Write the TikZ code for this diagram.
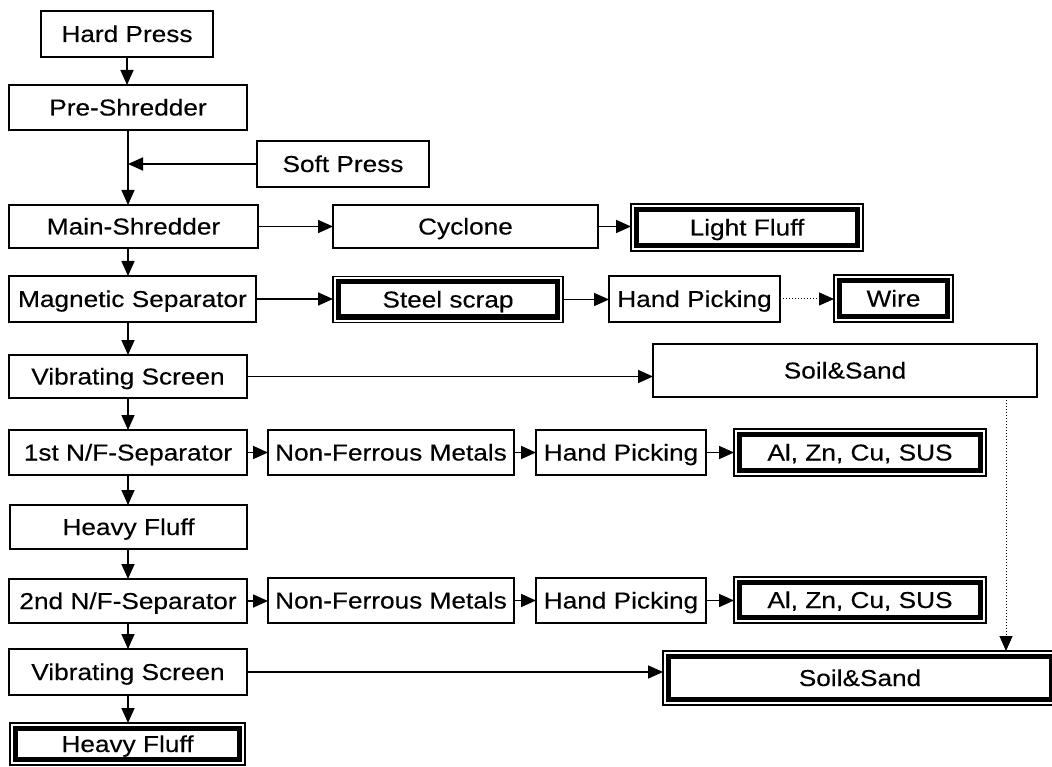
\documentclass[tikz,border=0pt]{standalone}
\usepackage{fontspec}
\setmainfont{Liberation Sans}[FakeStretch=1.14,FakeBold=0.3]
\usepackage{tikz}
\usetikzlibrary{arrows.meta,positioning}

\begin{document}
\begin{tikzpicture}[
		x=1pt,y=-1pt,
		box/.style={
			draw,
			line width=1.7pt,
			inner sep=0pt,
			outer sep=0pt,
			text height=16pt,
			text depth=0pt,
			font=\fontsize{23}{26}\selectfont
		},
		outbox/.style={
			box,
			line width=1.1pt
		},
		arr/.style={
			line width=1.7pt,
			-{Triangle[length=15pt,width=13pt]}
		},
		dotarr/.style={
			arr,
			line width=1pt,
			dotted
		}
		]
		
		\clip (0,0) rectangle (1052,767);
		
		% main column
		\node[box, minimum width=172, minimum height=46] at (127,34) (hard) {Hard Press};
		\node[box, minimum width=238, minimum height=45] at (128,107.5) (pre) {Pre-Shredder};
		\node[box, minimum width=172, minimum height=46] at (343,164) (soft) {Soft Press};
		\node[box, minimum width=249, minimum height=43] at (133.5,226.5) (main) {Main-Shredder};
		\node[box, minimum width=247, minimum height=46] at (132.5,299) (magnet) {Magnetic Separator};
		\node[box, minimum width=238, minimum height=43] at (128,376.5) (vib1) {Vibrating Screen};
		\node[box, minimum width=238, minimum height=45] at (128,452.5) (nf1) {1st N/F-Separator};
		\node[box, minimum width=237, minimum height=44] at (128.5,527) (heavy1) {Heavy Fluff};
		\node[box, minimum width=238, minimum height=44] at (128,601) (nf2) {2nd N/F-Separator};
		\node[box, minimum width=238, minimum height=46] at (128,672) (vib2) {Vibrating Screen};
		\node[outbox, minimum width=235, minimum height=42] at (127.5,744) (heavy2) {Heavy Fluff};
		
		% side branches
		\node[box, minimum width=265, minimum height=43] at (465.5,226.5) (cyclone) {Cyclone};
		\node[outbox, minimum width=232, minimum height=47] at (747,227.5) (light) {Light Fluff};
		\node[outbox, minimum width=230, minimum height=46] at (448,299.5) (steel) {Steel scrap};
		\node[box, minimum width=171, minimum height=46] at (694.5,299) (hand1) {Hand Picking};
		\node[outbox, minimum width=119, minimum height=47] at (893.5,298.5) (wire) {Wire};
		\node[box, minimum width=384, minimum height=53] at (845,370.5) (soil1) {Soil\&Sand};
		\node[box, minimum width=246, minimum height=45] at (391,452.5) (nfm1) {Non-Ferrous Metals};
		\node[box, minimum width=170, minimum height=45] at (621,452.5) (hand2) {Hand Picking};
		\node[outbox, minimum width=252, minimum height=47] at (860,452.5) (al1) {Al, Zn, Cu, SUS};
		\node[box, minimum width=246, minimum height=45] at (391,600.5) (nfm2) {Non-Ferrous Metals};
		\node[box, minimum width=170, minimum height=45] at (621,600.5) (hand3) {Hand Picking};
		\node[outbox, minimum width=252, minimum height=46] at (860,600) (al2) {Al, Zn, Cu, SUS};
		\node[outbox, minimum width=394, minimum height=54] at (860,678) (soil2) {Soil\&Sand};
		
		% thick inner frame of the end products
		\foreach \n in {light,steel,wire,al1,al2,soil2,heavy2}
		\draw[line width=5pt] ([shift={(5.5pt,5.5pt)}]\n.south west) rectangle ([shift={(-5.5pt,-5.5pt)}]\n.north east);
		
		\coordinate (drop) at (1006,397);
		
		% flow down
		\draw[arr] (hard.south) -- (hard.south |- pre.north);
		\draw[arr] (pre.south) -- (pre.south |- main.north);
		\draw[arr] (soft.west) -- (soft.west -| pre.south);
		\draw[arr] (main.south -| pre.south) -- (magnet.north -| pre.south);
		\draw[arr] (magnet.south -| pre.south) -- (vib1.north);
		\draw[arr] (vib1.south) -- (nf1.north);
		\draw[arr] (nf1.south) -- (heavy1.north -| nf1.south);
		\draw[arr] (heavy1.south -| nf1.south) -- (nf2.north);
		\draw[arr] (nf2.south) -- (vib2.north);
		\draw[arr] (vib2.south) -- (heavy2.north -| vib2.south);
		
		% flow right
		\draw[arr] (main.east) -- (cyclone.west);
		\draw[arr] (cyclone.east) -- (cyclone.east -| light.west);
		\draw[arr] (magnet.east) -- (magnet.east -| steel.west);
		\draw[arr] (steel.east) -- (steel.east -| hand1.west);
		\draw[dotarr] (hand1.east) -- (hand1.east -| wire.west);
		\draw[arr] (vib1.east) -- (vib1.east -| soil1.west);
		\draw[arr] (nf1.east) -- (nfm1.west);
		\draw[arr] (nfm1.east) -- (hand2.west);
		\draw[arr] (hand2.east) -- (al1.west);
		\draw[arr] (nf2.east) -- (nf2.east -| nfm2.west);
		\draw[arr] (nfm2.east) -- (hand3.west);
		\draw[arr] (hand3.east) -- (hand3.east -| al2.west);
		\draw[arr] (vib2.east) -- (vib2.east -| soil2.west);
		\draw[dotarr] (drop) -- (drop |- soil2.north);
		
\end{tikzpicture}
\end{document}
